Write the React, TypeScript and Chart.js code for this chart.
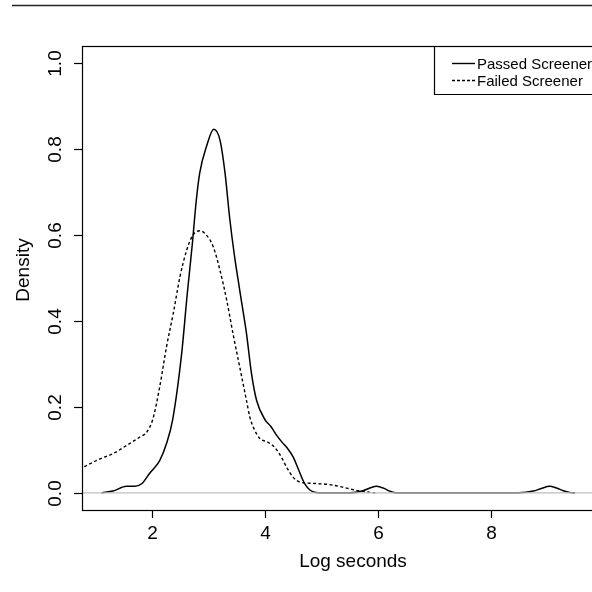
import React, { useEffect, useRef } from "react";
import { Chart, registerables } from "chart.js";

Chart.register(...registerables);

// ---- data ----
const passedX = [1.10, 1.30, 1.54, 1.69, 1.81, 1.95, 2.13, 2.25, 2.36, 2.52, 2.62, 2.71, 2.78, 2.84, 2.96, 3.09, 3.20, 3.29, 3.37, 3.46, 3.55, 3.67, 3.76, 3.85, 4.00, 4.10, 4.20, 4.30, 4.40, 4.50, 4.60, 4.70, 4.80, 4.90, 5.20, 5.50, 5.74, 5.86, 5.98, 6.10, 6.21, 6.33, 6.60, 7.00, 7.50, 8.00, 8.50, 8.76, 8.90, 9.05, 9.17, 9.29, 9.40, 9.50];
const passedY = [0.000, 0.004, 0.015, 0.015, 0.021, 0.045, 0.075, 0.114, 0.170, 0.324, 0.464, 0.580, 0.681, 0.744, 0.806, 0.846, 0.821, 0.744, 0.642, 0.549, 0.472, 0.371, 0.277, 0.215, 0.170, 0.155, 0.135, 0.118, 0.103, 0.083, 0.052, 0.022, 0.006, 0.001, 0.000, 0.000, 0.005, 0.011, 0.015, 0.011, 0.004, 0.000, 0.000, 0.000, 0.000, 0.000, 0.000, 0.004, 0.010, 0.015, 0.011, 0.005, 0.001, 0.000];

const failedX = [0.70, 0.77, 1.07, 1.30, 1.54, 1.78, 1.90, 2.01, 2.13, 2.25, 2.37, 2.49, 2.61, 2.72, 2.84, 2.96, 3.08, 3.20, 3.32, 3.43, 3.55, 3.67, 3.73, 3.80, 3.91, 4.05, 4.17, 4.29, 4.38, 4.50, 4.62, 4.85, 5.15, 5.45, 5.68, 5.95];
const failedY = [0.057, 0.060, 0.079, 0.091, 0.110, 0.130, 0.141, 0.172, 0.246, 0.339, 0.417, 0.503, 0.565, 0.600, 0.610, 0.600, 0.573, 0.518, 0.448, 0.371, 0.293, 0.215, 0.176, 0.150, 0.126, 0.118, 0.106, 0.083, 0.060, 0.036, 0.025, 0.022, 0.019, 0.011, 0.004, 0.000];

const xTicks = [2, 4, 6, 8];
const yTicks = [0, 0.2, 0.4, 0.6, 0.8, 1.0];
const yTickLabels = ["0.0", "0.2", "0.4", "0.6", "0.8", "1.0"];
const seriesNames = ["Passed Screener", "Failed Screener"];
const xTitle = "Log seconds";
const yTitle = "Density";

const FONT = "'Liberation Sans', Arial, Helvetica, sans-serif";

const rPlot = {
  id: "rPlot",
  afterDraw(chart: any) {
    const ctx = chart.ctx as CanvasRenderingContext2D;
    const { left, right, top, bottom } = chart.chartArea;
    const xs = chart.scales.x;
    const ys = chart.scales.y;
    ctx.save();
    ctx.strokeStyle = "#000";
    ctx.fillStyle = "#000";
    ctx.lineWidth = 1.2;
    // box
    ctx.strokeRect(Math.round(left) + 0.5, Math.round(top) + 0.5, right - left, bottom - top);
    // top rule (figure decoration)
    ctx.beginPath();
    ctx.strokeStyle = "#222";
    ctx.lineWidth = 1.5;
    ctx.moveTo(12, 5.5);
    ctx.lineTo(chart.width, 5.5);
    ctx.stroke();
    ctx.strokeStyle = "#000";
    ctx.lineWidth = 1.2;
    // x ticks
    ctx.font = `19px ${FONT}`;
    ctx.textAlign = "center";
    ctx.textBaseline = "alphabetic";
    xTicks.forEach((t) => {
      const px = Math.round(xs.getPixelForValue(t)) + 0.5;
      ctx.beginPath();
      ctx.moveTo(px, bottom);
      ctx.lineTo(px, bottom + 8);
      ctx.stroke();
      ctx.fillText(String(t), px, 539);
    });
    // y ticks
    yTicks.forEach((t, i) => {
      const py = Math.round(ys.getPixelForValue(t)) + 0.5;
      ctx.beginPath();
      ctx.moveTo(left, py);
      ctx.lineTo(left - 8, py);
      ctx.stroke();
      ctx.save();
      ctx.translate(61, py);
      ctx.rotate(-Math.PI / 2);
      ctx.fillText(yTickLabels[i], 0, 0);
      ctx.restore();
    });
    // axis titles
    ctx.fillText(xTitle, 353, 567);
    ctx.save();
    ctx.translate(29, 270);
    ctx.rotate(-Math.PI / 2);
    ctx.fillText(yTitle, 0, 0);
    ctx.restore();
    // legend
    const lx = 434.5;
    const ly = Math.round(top) + 0.5;
    ctx.beginPath();
    ctx.moveTo(chart.width + 5, ly);
    ctx.lineTo(lx, ly);
    ctx.lineTo(lx, 94.5);
    ctx.lineTo(chart.width + 5, 94.5);
    ctx.stroke();
    ctx.font = `15px ${FONT}`;
    ctx.textAlign = "left";
    const rows = [63, 80];
    rows.forEach((yy, i) => {
      ctx.beginPath();
      ctx.lineWidth = 1.4;
      ctx.setLineDash(i === 0 ? [] : [3, 2]);
      ctx.moveTo(452, yy + 0.5);
      ctx.lineTo(475, yy + 0.5);
      ctx.stroke();
      ctx.setLineDash([]);
      ctx.fillText(seriesNames[i], 477, yy + 5.5);
    });
    ctx.restore();
  },
};

export default function App() {
  const ref = useRef<HTMLCanvasElement | null>(null);
  useEffect(() => {
    if (!ref.current) return;
    const chart = new Chart(ref.current, {
      type: "line",
      data: {
        datasets: [
          {
            label: "zero",
            data: [{ x: -1, y: 0 }, { x: 12, y: 0 }],
            borderColor: "#bebebe",
            borderWidth: 1.2,
            pointRadius: 0,
            order: 0,
          },
          {
            label: seriesNames[0],
            data: passedX.map((x, i) => ({ x, y: passedY[i] })),
            borderColor: "#000",
            borderWidth: 1.5,
            pointRadius: 0,
            cubicInterpolationMode: "monotone",
            order: 2,
          },
          {
            label: seriesNames[1],
            data: failedX.map((x, i) => ({ x, y: failedY[i] })),
            borderColor: "#000",
            borderWidth: 1.4,
            borderDash: [3, 2.5],
            pointRadius: 0,
            cubicInterpolationMode: "monotone",
            order: 1,
          },
        ],
      },
      options: {
        animation: false,
        responsive: false,
        devicePixelRatio: 1,
        layout: { padding: { left: 82, top: 46, right: 6, bottom: 82 } },
        plugins: { legend: { display: false }, tooltip: { enabled: false }, title: { display: false } },
        scales: {
          x: { type: "linear", min: 0.752, max: 9.836, display: false },
          y: { type: "linear", min: -0.04, max: 1.04, display: false },
        },
      },
      plugins: [rPlot],
    } as any);
    return () => chart.destroy();
  }, []);
  return (
    <div style={{ position: "fixed", left: 0, top: 0, width: 592, height: 592, overflow: "hidden", background: "#fff" }}>
      <canvas ref={ref} width={600} height={592} style={{ width: 600, height: 592, display: "block" }} />
    </div>
  );
}
